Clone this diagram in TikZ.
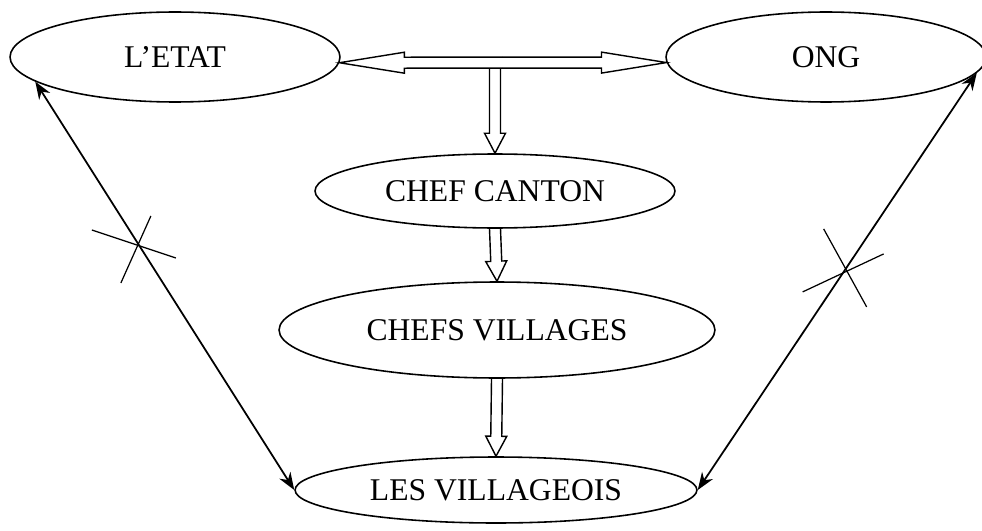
\documentclass[tikz,border=0pt]{standalone}
\usepackage{fontspec}
\setmainfont{Liberation Serif}
\usetikzlibrary{calc,arrows.meta,shapes.geometric}

\tikzset{
  actor/.style={ellipse, draw, line width=0.9pt, inner sep=0pt,
    font=\fontsize{18}{20}\selectfont},
  hollow/.style={line width=0.8pt, line join=miter},
  link/.style={line width=1pt,
    {Stealth[length=3.5mm,width=2.6mm]}-{Stealth[length=3.5mm,width=2.6mm]}},
  crossline/.style={line width=0.7pt}
}
% open-ended block arrow: #1 head length, #2 start, #3 tip
\newcommand{\hollowarrow}[3]{%
  \coordinate (hb) at ($(#3)!#1!(#2)$);
  \draw[hollow] ($(#2)!0.11cm!90:(#3)$) -- ($(hb)!0.11cm!-90:(#2)$)
    -- ($(hb)!0.21cm!-90:(#2)$) -- (#3) -- ($(hb)!0.21cm!90:(#2)$)
    -- ($(hb)!0.11cm!90:(#2)$) -- ($(#2)!0.11cm!-90:(#3)$);
}

\begin{document}
\begin{tikzpicture}[x=0.02cm, y=-0.02cm]
\useasboundingbox (0,0) rectangle (982,530);
% actors
\node[actor, minimum width=6.6cm, minimum height=1.8cm] (etat) at (175,57) {L'ETAT};
\node[actor, minimum width=6.4cm, minimum height=1.8cm] (ong) at (826,57) {ONG};
\node[actor, minimum width=7.2cm, minimum height=1.48cm] (canton) at (495,191) {CHEF CANTON};
\node[actor, minimum width=8.72cm, minimum height=1.92cm] (chefsv) at (497,330) {CHEFS VILLAGES};
\node[actor, minimum width=8.04cm, minimum height=1.32cm] (villageois) at (496,490) {LES VILLAGEOIS};

% hollow arrows between state and NGO, then down the chain
\coordinate (mid) at ($(etat.-2)!0.5!(ong.182)$);
\hollowarrow{1.3cm}{mid}{etat.-2}
\hollowarrow{1.3cm}{mid}{ong.182}
\coordinate (fork0) at (canton.north |- mid);
\coordinate (fork) at ($(fork0)+(0,5.5)$);
\hollowarrow{0.4cm}{fork}{canton.north}
\foreach \a/\b in {canton.south/chefsv.north, chefsv.south/villageois.north} {
  \hollowarrow{0.4cm}{\a}{\b}
}

% broken direct links
\draw[link] (etat.190) -- coordinate[pos=0.4] (xl) (villageois.west);
\draw[link] (ong.-6) -- coordinate[pos=0.47] (xr) (villageois.east);
\draw[crossline] ($(xl)+(-47,-15)$) -- ($(xl)+(37,13)$);
\draw[crossline] ($(xl)+(12,-29)$) -- ($(xl)+(-18,38)$);
\draw[crossline] ($(xr)+(-22,-40)$) -- ($(xr)+(21,38)$);
\draw[crossline] ($(xr)+(-43,23)$) -- ($(xr)+(38,-15)$);
\end{tikzpicture}
\end{document}
